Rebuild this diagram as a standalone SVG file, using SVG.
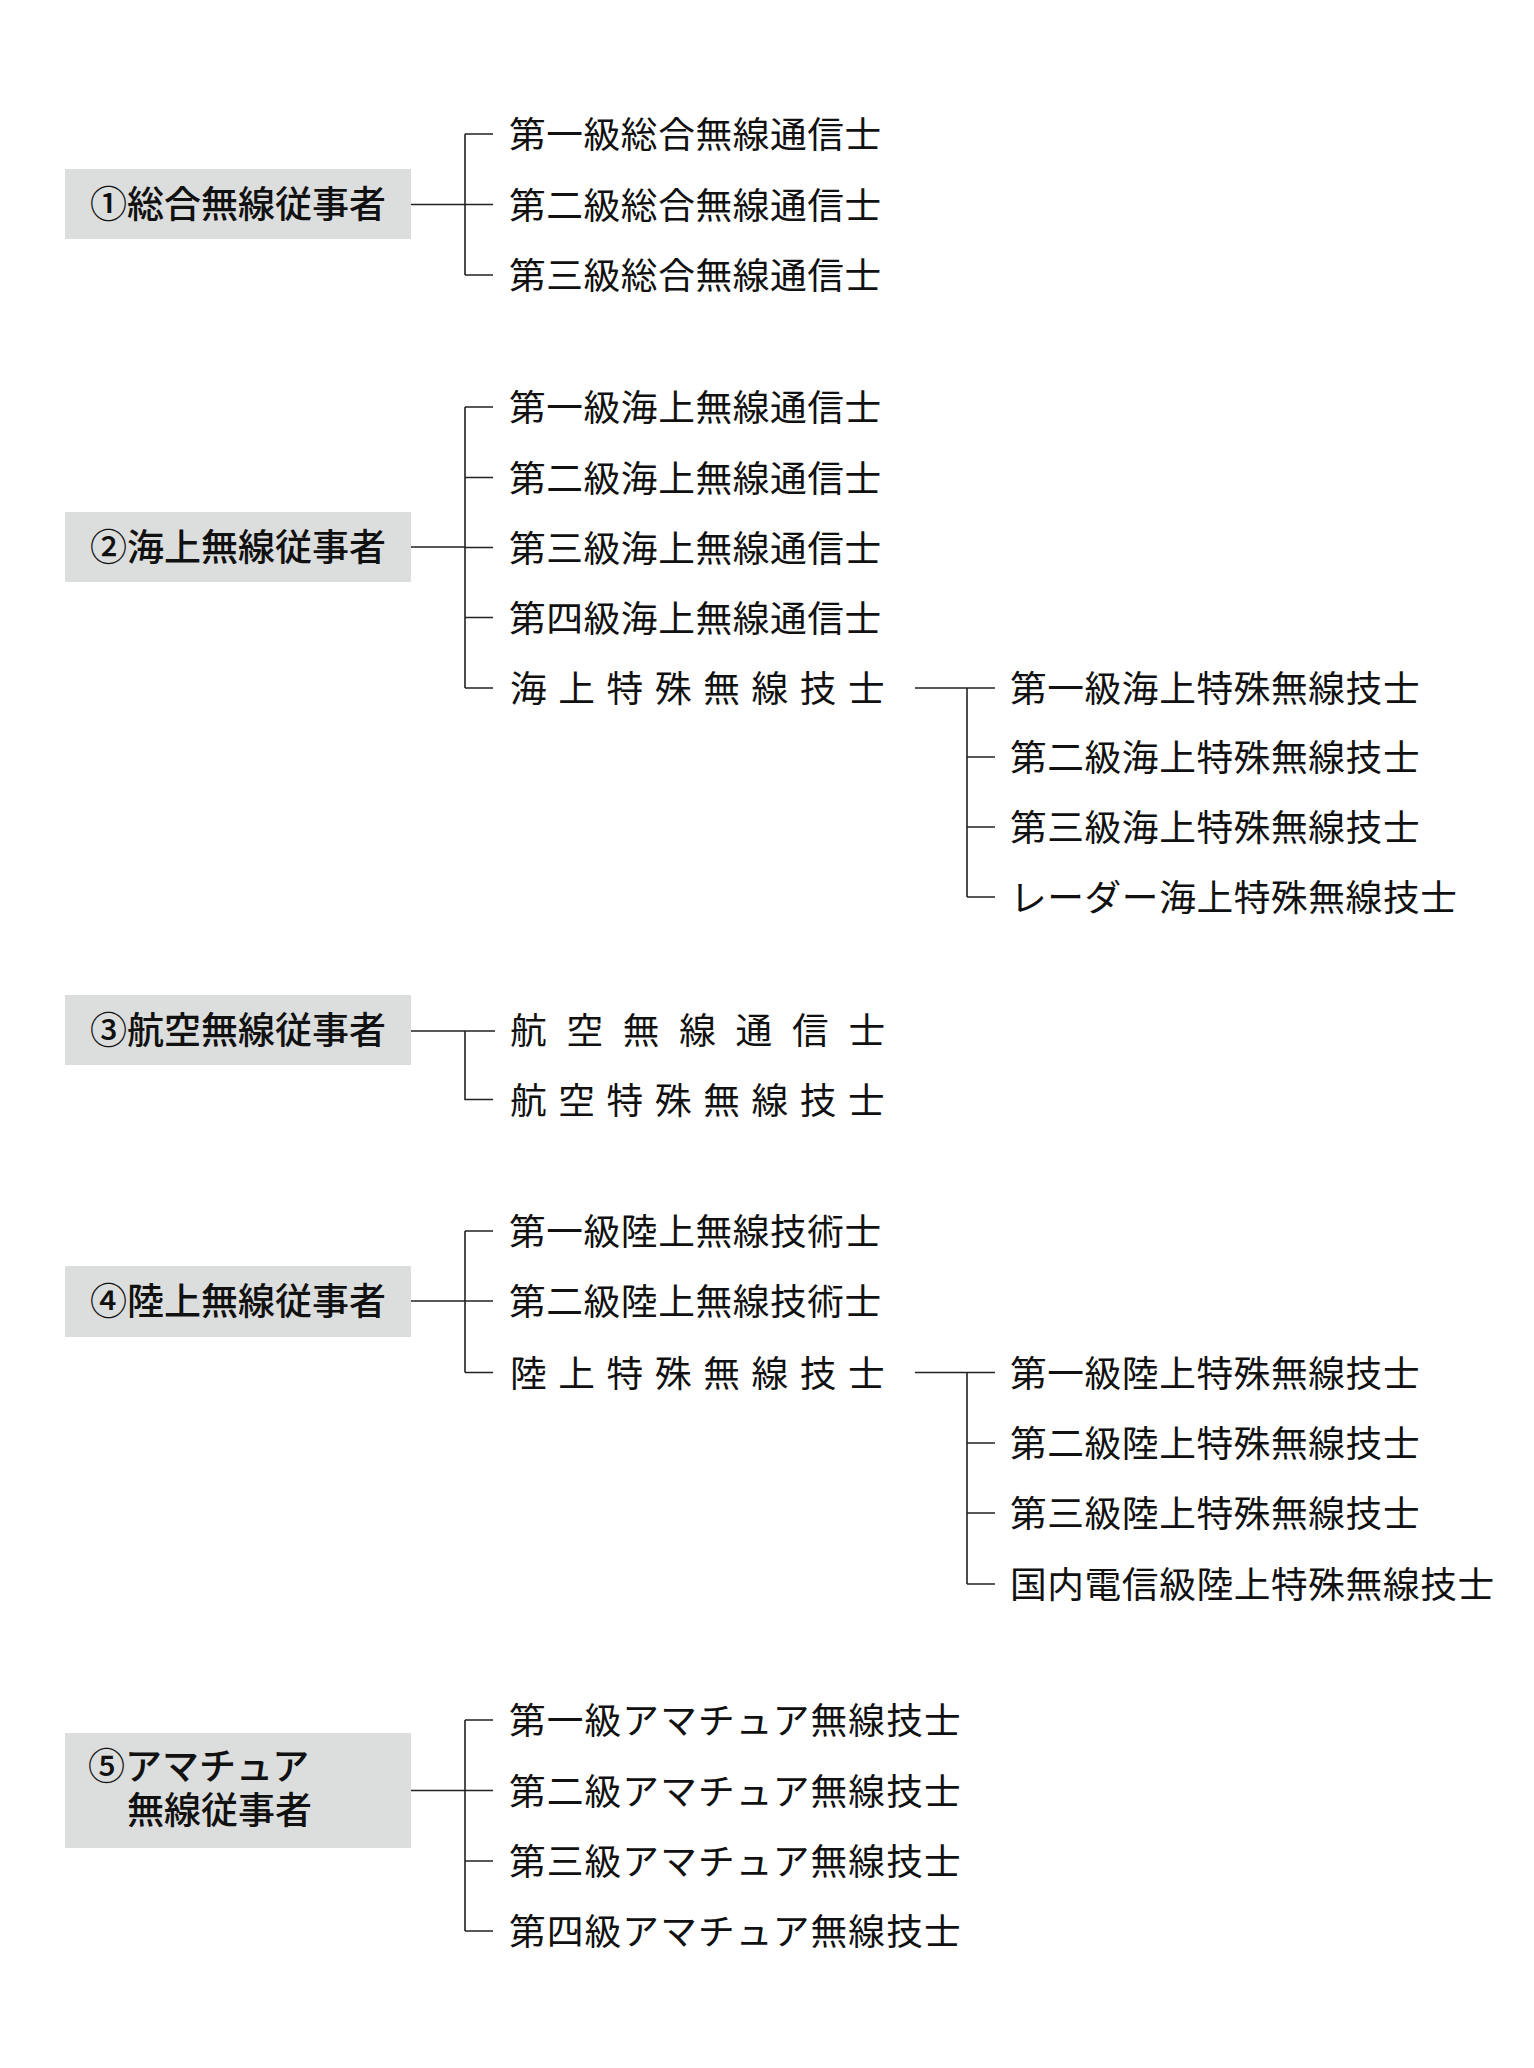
<svg xmlns="http://www.w3.org/2000/svg" width="1534" height="2068" viewBox="0 0 1534 2068">
<style>
.box{fill:#dcdddd}
.bt{font-family:"Noto Sans CJK JP","Noto Sans CJK SC",sans-serif;font-size:37px;font-weight:500;fill:#111}
.t{font-family:"Noto Sans CJK JP","Noto Sans CJK SC",sans-serif;font-size:36.7px;letter-spacing:0.6px;fill:#111}
.a{letter-spacing:1.1px}
.s{font-family:"Noto Sans CJK JP","Noto Sans CJK SC",sans-serif;font-size:36.7px;fill:#111}
.c{fill:none;stroke:#222;stroke-width:1.6}
</style>
<rect width="1534" height="2068" fill="#fff"/>
<g id="connectors">
<path class="c" d="M411 204.5H465M465 134V275M465 134H493M465 204.5H493M465 275H493"/>
<path class="c" d="M411 547H465M465 407V688M465 407H493M465 477.5H493M465 547.5H493M465 617.5H493M465 688H493"/>
<path class="c" d="M915 688H995M967 688V897M967 757H995M967 827H995M967 897H995"/>
<path class="c" d="M411 1031H495M465 1031V1099.5H493"/>
<path class="c" d="M411 1301H465M465 1231V1372.5M465 1231H493M465 1301H493M465 1372.5H493"/>
<path class="c" d="M915 1372.5H995M967 1372.5V1584M967 1443H995M967 1513H995M967 1584H995"/>
<path class="c" d="M411 1790.5H465M465 1720V1931M465 1720H493M465 1790.5H493M465 1861H493M465 1931H493"/>
</g>
<g id="n1">
<rect class="box" x="65" y="169" width="346" height="70"/>
<text class="bt" x="90" y="218">①総合無線従事者</text>
</g>
<g id="n1a"><text class="t" x="509" y="148">第一級総合無線通信士</text></g>
<g id="n1b"><text class="t" x="509" y="219">第二級総合無線通信士</text></g>
<g id="n1c"><text class="t" x="509" y="289">第三級総合無線通信士</text></g>
<g id="n2">
<rect class="box" x="65" y="512" width="346" height="70"/>
<text class="bt" x="90" y="561">②海上無線従事者</text>
</g>
<g id="n2a"><text class="t" x="509" y="421">第一級海上無線通信士</text></g>
<g id="n2b"><text class="t" x="509" y="491.5">第二級海上無線通信士</text></g>
<g id="n2c"><text class="t" x="509" y="561.5">第三級海上無線通信士</text></g>
<g id="n2d"><text class="t" x="509" y="631.5">第四級海上無線通信士</text></g>
<g id="n2e"><text class="s" x="510 558.3 606.6 654.9 703.2 751.5 799.8 848.1" y="702">海上特殊無線技士</text></g>
<g id="n2e1"><text class="t" x="1010" y="702">第一級海上特殊無線技士</text></g>
<g id="n2e2"><text class="t" x="1010" y="771">第二級海上特殊無線技士</text></g>
<g id="n2e3"><text class="t" x="1010" y="841">第三級海上特殊無線技士</text></g>
<g id="n2e4"><text class="t" x="1010" y="911">レーダー海上特殊無線技士</text></g>
<g id="n3">
<rect class="box" x="65" y="995" width="346" height="70"/>
<text class="bt" x="90" y="1044">③航空無線従事者</text>
</g>
<g id="n3a"><text class="s" x="510 566.4 622.8 679.2 735.6 792 848.4" y="1044">航空無線通信士</text></g>
<g id="n3b"><text class="s" x="510 558.3 606.6 654.9 703.2 751.5 799.8 848.1" y="1113.5">航空特殊無線技士</text></g>
<g id="n4">
<rect class="box" x="65" y="1266" width="346" height="71"/>
<text class="bt" x="90" y="1315">④陸上無線従事者</text>
</g>
<g id="n4a"><text class="t" x="509" y="1245">第一級陸上無線技術士</text></g>
<g id="n4b"><text class="t" x="509" y="1315">第二級陸上無線技術士</text></g>
<g id="n4c"><text class="s" x="510 558.3 606.6 654.9 703.2 751.5 799.8 848.1" y="1386.5">陸上特殊無線技士</text></g>
<g id="n4c1"><text class="t" x="1010" y="1386.5">第一級陸上特殊無線技士</text></g>
<g id="n4c2"><text class="t" x="1010" y="1457">第二級陸上特殊無線技士</text></g>
<g id="n4c3"><text class="t" x="1010" y="1527">第三級陸上特殊無線技士</text></g>
<g id="n4c4"><text class="t" x="1010" y="1598">国内電信級陸上特殊無線技士</text></g>
<g id="n5">
<rect class="box" x="65" y="1733" width="346" height="115"/>
<text class="bt"><tspan x="88" y="1780">⑤アマチュア</tspan><tspan x="127" y="1824">無線従事者</tspan></text>
</g>
<g id="n5a"><text class="t a" x="509" y="1734">第一級アマチュア無線技士</text></g>
<g id="n5b"><text class="t a" x="509" y="1804.5">第二級アマチュア無線技士</text></g>
<g id="n5c"><text class="t a" x="509" y="1875">第三級アマチュア無線技士</text></g>
<g id="n5d"><text class="t a" x="509" y="1945">第四級アマチュア無線技士</text></g>
</svg>
